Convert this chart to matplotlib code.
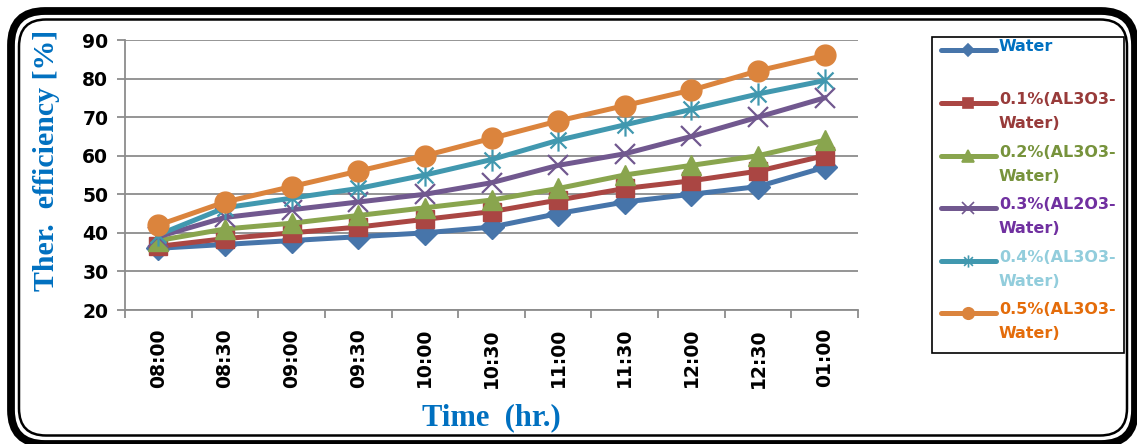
import numpy as np
import matplotlib
matplotlib.use("Agg")
import matplotlib.pyplot as plt
from matplotlib.path import Path
from matplotlib.patches import FancyBboxPatch, Rectangle

times = ["08:00", "08:30", "09:00", "09:30", "10:00", "10:30",
         "11:00", "11:30", "12:00", "12:30", "01:00"]

water = [36, 37, 38, 39, 40, 41.5, 45, 48, 50, 52, 57]
al_01 = [36.5, 38.5, 40, 41.5, 43.5, 45.5, 48.5, 51.5, 53.5, 56, 60]
al_02 = [38, 41, 42.5, 44.5, 46.5, 48.5, 51.5, 55, 57.5, 60, 64]
al_03 = [39, 44, 46, 48, 50, 53, 57.5, 60.5, 65, 70, 75]
al_04 = [39.5, 46.5, 49, 51.5, 55, 59, 64, 68, 72, 76, 79.5]
al_05 = [42, 48, 52, 56, 60, 64.5, 69, 73, 77, 82, 86]

labels = ["Water", "0.1%(AL3O3-\nWater)", "0.2%(AL3O3-\nWater)",
          "0.3%(AL2O3-\nWater)", "0.4%(AL3O3-\nWater)", "0.5%(AL3O3-\nWater)"]

# asterisk-like marker: vertical bar plus a cross
star = Path([(0, -1), (0, 1), (-0.72, -0.72), (0.72, 0.72), (-0.72, 0.72), (0.72, -0.72)],
            [Path.MOVETO, Path.LINETO, Path.MOVETO, Path.LINETO, Path.MOVETO, Path.LINETO])

styles = [
    dict(color="#4775AA", marker="D", ms=12, text="#0070C0"),
    dict(color="#AA4643", marker="s", ms=13, text="#983B3A"),
    dict(color="#89A54E", marker="^", ms=15, text="#77933C"),
    dict(color="#71588F", marker="x", ms=15, text="#7030A0"),
    dict(color="#4198AF", marker=star, ms=16, text="#92CDDC"),
    dict(color="#DB843D", marker="o", ms=15, text="#E46C0A"),
]
series = [water, al_01, al_02, al_03, al_04, al_05]

W, H = 1137, 444
fig = plt.figure(figsize=(W / 100, H / 100), dpi=100)
ax = fig.add_axes([125 / W, 1 - 310 / H, 733 / W, 270 / H])

x = np.arange(len(times))
for vals, st in zip(series, styles):
    open_marker = st["marker"] == "x" or st["marker"] is star
    ax.plot(x, vals, color=st["color"], lw=3.6, marker=st["marker"], ms=st["ms"],
            mec=st["color"], mfc="none" if open_marker else st["color"],
            mew=1.6 if open_marker else 1, zorder=3)

grey = "#8C8C8C"
tick_font = dict(family="DejaVu Sans", fontweight="bold", fontsize=13.5)
ax.set_xlim(-0.5, len(times) - 0.5)
ax.set_ylim(20, 90)
ax.set_yticks(np.arange(20, 91, 10))
ax.set_yticklabels([str(v) for v in range(20, 91, 10)], **tick_font)
ax.grid(axis="y", color=grey, lw=1.3)
ax.set_axisbelow(True)
for s in ("top", "right"):
    ax.spines[s].set_visible(False)
for s in ("left", "bottom"):
    ax.spines[s].set_color(grey)
    ax.spines[s].set_linewidth(1.3)

ax.set_xticks(np.arange(-0.5, len(times), 1))
ax.set_xticklabels([])
ax.set_xticks(x, minor=True)
ax.set_xticklabels(times, minor=True, rotation=90, **tick_font)
ax.tick_params(axis="x", which="major", length=6, width=1.3, color=grey)
ax.tick_params(axis="x", which="minor", length=0, pad=13)
ax.tick_params(axis="y", length=6, width=1.3, color=grey, pad=6)

blue = "#0070C0"
ax.set_ylabel("Ther.  efficiency [%]", fontsize=21.5, fontweight="bold",
              family="Liberation Serif", color=blue)
ax.yaxis.set_label_coords(-0.088, 0.556)
ax.set_xlabel("Time  (hr.)", fontsize=22, fontweight="bold",
              family="Liberation Serif", color=blue)
ax.xaxis.set_label_coords(0.50, -0.345)

# overlay in pixel coordinates for the frame and the legend
ov = fig.add_axes([0, 0, 1, 1], zorder=5)
ov.set_xlim(0, W)
ov.set_ylim(H, 0)
ov.axis("off")
ov.patch.set_alpha(0)

ov.add_patch(FancyBboxPatch((11, 11), 1124, 433, boxstyle="round,pad=0,rounding_size=34",
                            fill=False, ec="black", lw=5.6))
ov.add_patch(FancyBboxPatch((19, 19.5), 1108, 416, boxstyle="round,pad=0,rounding_size=27",
                            fill=False, ec="black", lw=1.8))

ov.add_patch(Rectangle((932, 37), 192, 316, fill=False, ec="black", lw=1.2))
rows = [50, 103, 156, 208, 261, 313]
for y0, lab, st in zip(rows, labels, styles):
    open_marker = st["marker"] == "x" or st["marker"] is star
    ov.plot([941, 996], [y0, y0], color=st["color"], lw=3.6, solid_capstyle="round")
    ov.plot([968], [y0], color=st["color"], marker=st["marker"], ms=st["ms"] * 0.55,
            mfc="none" if open_marker else st["color"], mec=st["color"], mew=1.2)
    ov.text(999, y0 - 11, lab, color=st["text"], fontsize=11.5, fontweight="bold",
            family="DejaVu Sans", va="top", ha="left", linespacing=1.75)

fig.savefig("out.png", dpi=100)
